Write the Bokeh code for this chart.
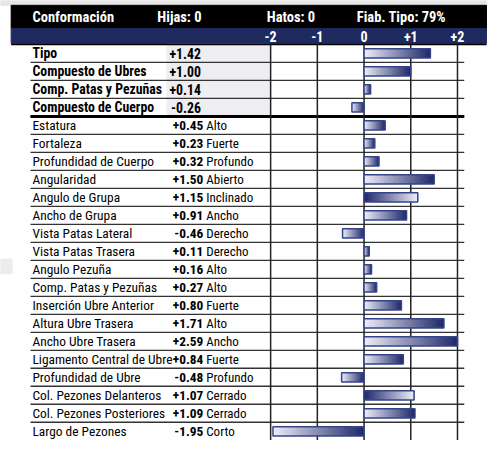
import numpy as np
from bokeh.plotting import figure
from bokeh.models import Range1d
from bokeh.core.properties import value
from bokeh.embed import file_html
from bokeh.resources import INLINE

# ---------------- data ----------------
header_labels = ["Conformación", "Hijas: 0", "Hatos: 0", "Fiab. Tipo: 79%"]
tick_values = [-2, -1, 0, 1, 2]
tick_labels = ["-2", "-1", "0", "+1", "+2"]

composite_names = ["Tipo", "Compuesto de Ubres", "Comp. Patas y Pezuñas", "Compuesto de Cuerpo"]
composite_values = [1.42, 1.00, 0.14, -0.26]

trait_names = ["Estatura", "Fortaleza", "Profundidad de Cuerpo", "Angularidad",
               "Angulo de Grupa", "Ancho de Grupa", "Vista Patas Lateral",
               "Vista Patas Trasera", "Angulo Pezuña", "Comp. Patas y Pezuñas",
               "Inserción Ubre Anterior", "Altura Ubre Trasera", "Ancho Ubre Trasera",
               "Ligamento Central de Ubre", "Profundidad de Ubre",
               "Col. Pezones Delanteros", "Col. Pezones Posteriores", "Largo de Pezones"]
trait_values = [0.45, 0.23, 0.32, 1.50, 1.15, 0.91, -0.46, 0.11, 0.16, 0.27,
                0.80, 1.71, 2.59, 0.84, -0.48, 1.07, 1.09, -1.95]
trait_descriptions = ["Alto", "Fuerte", "Profundo", "Abierto", "Inclinado", "Ancho",
                      "Derecho", "Derecho", "Alto", "Alto", "Fuerte", "Alto", "Ancho",
                      "Fuerte", "Profundo", "Cerrado", "Cerrado", "Corto"]

# ---------------- style / layout ----------------
FONT = "Roboto Condensed"
FS = "13.4px"
NAVY = "#1f2a5f"
BAR_DARK = np.array([0x1d, 0x27, 0x68])
BAR_LIGHT = np.array([0xef, 0xef, 0xf9])
BAR_EDGE = "#34448a"
REVERSED_GRADIENT = {"Angulo de Grupa", "Col. Pezones Delanteros"}

REF_W, REF_H = 503, 456
PX_M2, PX_PER_UNIT = 279.0, 48.25
ROW_TOP, ROW_H = 45.5, 18.65


def fx(px):
    return -2 + (px - PX_M2) / PX_PER_UNIT


def fy(py):
    return (py - ROW_TOP) / ROW_H - 0.5


n_comp = len(composite_names)
n_rows = n_comp + len(trait_names)

p = figure(width=487, height=440,
           x_range=Range1d(fx(0), fx(REF_W)), y_range=Range1d(fy(REF_H), fy(0)),
           output_backend="svg", toolbar_location=None,
           x_axis_location=None, y_axis_location=None, min_border=0)
p.grid.visible = False
p.outline_line_color = None
p.background_fill_color = "white"
p.border_fill_color = "white"

# decorations
p.quad(left=fx(0), right=fx(REF_W), top=fy(0), bottom=fy(5), color="#e6e6e6")
p.quad(left=fx(0), right=fx(12), top=fy(268), bottom=fy(283), color="#ececec")
p.quad(left=fx(11), right=fx(502), top=fy(5), bottom=fy(29), color="black")
p.quad(left=fx(11), right=fx(502), top=fy(29), bottom=fy(44.5), color=NAVY)
p.quad(left=fx(172), right=fx(278), top=-0.5, bottom=n_comp - 0.5, color="#ededf2")

# row separators
seps = [i + 0.5 for i in range(n_rows - 1)]
p.segment(x0=fx(31), x1=fx(479), y0=seps, y1=seps, line_color="#333333", line_width=1.4)
p.segment(x0=fx(31), x1=fx(479), y0=n_comp - 0.5, y1=n_comp - 0.5, line_color="black", line_width=3)
p.segment(x0=fx(11), x1=fx(502), y0=-0.5, y1=-0.5, line_color="black", line_width=1.5)

# vertical grid
p.segment(x0=tick_values, x1=tick_values, y0=-0.5, y1=fy(REF_H), line_color="#222222", line_width=1.5)

# bars with gradient: overlapping slices (each runs to the far end of the bar)
all_names = composite_names + trait_names
all_values = composite_values + trait_values
N = 28
sl, sr, sy, sc = [], [], [], []
bl, br, by = [], [], []
for i, (name, v) in enumerate(zip(all_names, all_values)):
    vc = float(np.clip(v, -2, 2))
    left, right = min(0.0, vc), max(0.0, vc)
    w = right - left
    rev = (name in REVERSED_GRADIENT) and i >= n_comp
    for k in range(N):
        t = (k + 0.5) / N
        if rev:
            # dark on the left, light on the right
            c = BAR_DARK + (BAR_LIGHT - BAR_DARK) * t
        else:
            c = BAR_LIGHT + (BAR_DARK - BAR_LIGHT) * t
        sl.append(left + w * k / N)
        sr.append(right)
        sy.append(i)
        sc.append("#%02x%02x%02x" % tuple(int(round(x)) for x in c))
    bl.append(left)
    br.append(right)
    by.append(i)
p.hbar(y=sy, left=sl, right=sr, height=0.52, fill_color=sc, line_color=None)
p.hbar(y=by, left=bl, right=br, height=0.52, fill_color=None, line_color=BAR_EDGE, line_width=1.5)

# header texts
p.text(x=[fx(33), fx(162), fx(275), fx(368)], y=[fy(17.5)] * 4, text=header_labels,
       text_font=value(FONT), text_font_size="14.5px", text_font_style="bold",
       text_color="white", text_baseline="middle", text_align="left")
p.text(x=tick_values, y=[fy(37)] * 5, text=tick_labels,
       text_font=value(FONT), text_font_size="14px", text_font_style="bold",
       text_color="white", text_baseline="middle", text_align="center")

# composite rows
comp_rows = list(range(n_comp))
p.text(x=[fx(33)] * n_comp, y=comp_rows, text=composite_names,
       text_font=value(FONT), text_font_size="13.8px", text_font_style="bold",
       text_color="black", text_baseline="middle", text_align="left")
p.text(x=[fx(207)] * n_comp, y=comp_rows, text=[f"{v:+.2f}" for v in composite_values],
       text_font=value(FONT), text_font_size="13.8px", text_font_style="bold",
       text_color="black", text_baseline="middle", text_align="right")

# trait rows
tr_rows = list(range(n_comp, n_rows))
nt = len(trait_names)
p.text(x=[fx(33)] * nt, y=tr_rows, text=trait_names,
       text_font=value(FONT), text_font_size=FS,
       text_color="black", text_baseline="middle", text_align="left")
p.text(x=[fx(209.5)] * nt, y=tr_rows, text=[f"{v:+.2f}" for v in trait_values],
       text_font=value(FONT), text_font_size=FS, text_font_style="bold",
       text_color="black", text_baseline="middle", text_align="right")
p.text(x=[fx(212.5)] * nt, y=tr_rows, text=trait_descriptions,
       text_font=value(FONT), text_font_size="13px",
       text_color="black", text_baseline="middle", text_align="left")

open("out.html", "w").write(file_html(p, INLINE))
